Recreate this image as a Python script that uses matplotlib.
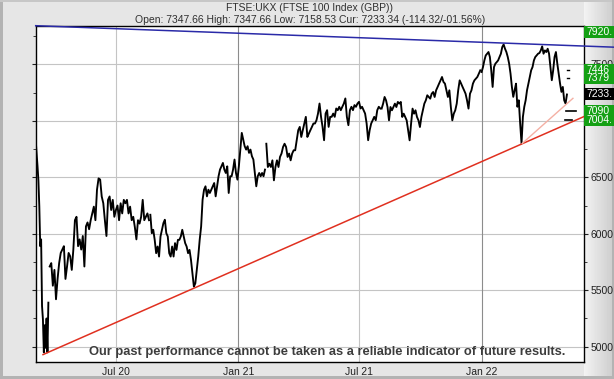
import matplotlib
matplotlib.use("Agg")
import matplotlib.pyplot as plt
import matplotlib.dates as mdates
import matplotlib.transforms as mtransforms
from matplotlib.patches import Rectangle
import numpy as np
import pandas as pd

# FTSE 100 closes, one list per stretch of time
crash_mar20 = [6829, 6710, 6600, 6470, 6240, 5890, 5950, 5360, 5240, 4950, 5190,
               4990, 5250, 4950, 5390]
spring_20 = [5710, 5740, 5540, 5680, 5420, 5600, 5740, 5830, 5860, 5890, 5600, 5710,
             5830, 5800, 5680, 5860, 6120, 6150, 5890, 5950, 5860, 5980, 5710, 6065,
             6100, 6040, 6120, 6180, 6240, 6120, 6390, 6490, 6480, 6330, 6270, 6120,
             5980, 6300, 6330, 6210, 6300, 6150, 6210, 6250, 6120, 6270, 6180, 6300,
             6270, 6300, 6180, 6240, 6120, 6150, 6060, 5950, 6120, 6090, 6150, 6300,
             6120, 6150, 6180, 6120]
autumn_20 = [6168, 6005, 6035, 5946, 5828, 5887, 5798, 5976, 6035, 6094, 6124, 6005,
             5976, 5828, 5798, 5887, 5798, 5917, 5857, 5946, 5946, 5976, 6035, 5976,
             5917, 5887, 5828, 5857, 5769, 5650, 5532, 5561, 5680, 5798, 5946, 6065,
             6301, 6390, 6420, 6331, 6390, 6361, 6390, 6420, 6449, 6331, 6420, 6509,
             6568, 6597, 6627, 6568, 6538, 6597, 6361, 6509, 6509, 6568, 6657, 6538,
             6479, 6597, 6745, 6893, 6834, 6775, 6745, 6775, 6716, 6745, 6686, 6657,
             6538, 6420, 6509, 6538, 6509, 6538, 6509, 6568]
h1_21 = [6797, 6591, 6620, 6591, 6650, 6473, 6591, 6650, 6591, 6680, 6710, 6768,
         6797, 6768, 6680, 6710, 6650, 6710, 6739, 6739, 6828, 6917, 6946, 6857,
         6917, 6976, 7035, 6857, 6887, 6917, 6946, 6976, 6976, 7005, 7064, 7153,
         7035, 6946, 6828, 7064, 7094, 6946, 7035, 7035, 7064, 7035, 7109, 7094,
         7124, 7094, 7124, 7153, 7198, 7035, 6961, 7094, 7124, 7094, 7139, 7124,
         7153, 7168, 7109, 7124, 7094, 7064, 6976, 6828, 6917, 6976, 7005, 7035,
         7005, 7094, 7124, 7109]
h2_21 = [7108, 7152, 7211, 7181, 7122, 7004, 7122, 7093, 7122, 7152, 7122, 7167,
         7152, 7167, 7034, 7063, 7034, 7004, 6916, 6827, 6975, 7108, 7063, 7093,
         7034, 7004, 6945, 7034, 7093, 7152, 7181, 7226, 7211, 7196, 7240, 7255,
         7211, 7270, 7299, 7329, 7358, 7388, 7344, 7329, 7270, 7211, 7270, 7122,
         7004, 7063, 7093, 7152, 7270, 7358, 7329, 7299, 7270, 7240, 7181, 7108,
         7240, 7270, 7329, 7358, 7373, 7388, 7417, 7447]
y2022 = [7432, 7476, 7535, 7579, 7594, 7609, 7565, 7447, 7300, 7476, 7506, 7520,
         7535, 7565, 7594, 7653, 7676, 7638, 7609, 7565, 7506, 7418, 7300, 7212,
         7271, 7329, 7124, 7182, 6977, 6800, 7035, 7124, 7182, 7271, 7329, 7388,
         7447, 7476, 7535, 7565, 7579, 7594, 7600, 7623, 7659, 7594, 7623, 7609,
         7638, 7594, 7476, 7359, 7447, 7565, 7609, 7506, 7418, 7329, 7256, 7300,
         7182, 7153, 7233]

segments = [
    ("2020-03-03", "2020-03-22", crash_mar20),
    ("2020-03-24", "2020-08-20", spring_20),
    ("2020-08-22", "2021-02-10", autumn_20),
    ("2021-02-12", "2021-08-02", h1_21),
    ("2021-08-04", "2021-12-30", h2_21),
    ("2022-01-01", "2022-05-09", y2022),
]

# trend lines
blue_dates = ["2020-03-03", "2022-07-18"]
blue_vals = [7842, 7652]
red_dates = ["2020-03-14", "2022-06-03"]
red_vals = [4930, 7036]
pink_dates = ["2022-03-03", "2022-05-18"]
pink_vals = [6800, 7199]

# right hand price labels
label_text = ["7920.", "7446", "7379", "7233.", "7090", "7004."]
label_vals = [7920, 7446, 7379, 7233, 7090, 7004]
label_cols = ["#14a014", "#14a014", "#14a014", "#000000", "#14a014", "#14a014"]

title = "FTSE:UKX (FTSE 100 Index (GBP))"
subtitle = "Open: 7347.66 High: 7347.66 Low: 7158.53 Cur: 7233.34 (-114.32/-01.56%)"
disclaimer = "Our past performance cannot be taken as a reliable indicator of future results."

plt.rcParams["font.family"] = ["Liberation Sans", "DejaVu Sans"]

W, H = 614, 379
fig = plt.figure(figsize=(W / 100, H / 100), dpi=100)

# grey bevelled background
bg = fig.add_axes([0, 0, 1, 1], zorder=-10)
bg.axis("off")
shade = np.full((H, W), 0.90)
shade[:, 584:] = np.linspace(0.95, 0.80, W - 584)
shade[:, :3] = 0.70
shade[-3:, :] = 0.70
shade[:2, :] = 0.78
shade[:, -2:] = 0.70
bg.imshow(shade, cmap="gray", vmin=0, vmax=1, aspect="auto", interpolation="nearest")

x0, x1, y0, y1 = 35.7, 583.6, 25.7, 361.6
ax = fig.add_axes([x0 / W, 1 - y1 / H, (x1 - x0) / W, (y1 - y0) / H])
ax.set_facecolor("white")

for start, end, vals in segments:
    d = pd.date_range(start, end, periods=len(vals))
    ax.plot(d, vals, color="black", lw=1.35, zorder=3)

ax.plot(pd.to_datetime(blue_dates), blue_vals, color="#2a2aa8", lw=1.1, zorder=4, clip_on=False)
ax.plot(pd.to_datetime(red_dates), red_vals, color="#e03020", lw=1.1, zorder=4)
ax.plot(pd.to_datetime(pink_dates), pink_vals, color="#f4b0a4", lw=1.0, zorder=4)

# target markers near the last bar
ax.plot(pd.to_datetime(["2022-05-09", "2022-05-12"]), [7446, 7446], color="black", lw=1, zorder=4)
ax.plot(pd.to_datetime(["2022-05-09", "2022-05-12"]), [7379, 7379], color="black", lw=1, zorder=4)
ax.plot(pd.to_datetime(["2022-05-08", "2022-05-22"]), [7090, 7090], color="black", lw=1.2, zorder=4)
ax.plot(pd.to_datetime(["2022-05-06", "2022-05-16"]), [7004, 7004], color="black", lw=1.2, zorder=4)

ax.set_xlim(pd.Timestamp("2020-03-03"), pd.Timestamp("2022-06-03"))
ax.set_ylim(4868, 7842)

ax.xaxis.set_major_locator(mdates.MonthLocator(bymonth=[1, 7]))
ax.xaxis.set_major_formatter(mdates.DateFormatter("%b %y"))
ax.tick_params(axis="x", length=0, pad=4, labelsize=7.5, colors="#202020")

ax.yaxis.tick_right()
ax.set_yticks(range(5000, 7501, 500))
ax.set_yticks(range(5000, 7751, 250), minor=True)
ax.tick_params(axis="y", which="both", direction="out", length=3, pad=2,
               labelsize=7.5, colors="#202020", left=True, right=True)
ax.tick_params(axis="y", which="minor", length=2)

ax.grid(axis="y", which="major", color="#c4c4c4", lw=0.8)
for d in ax.get_xticks():
    dt = mdates.num2date(d)
    ax.axvline(d, color="#8c8c8c" if dt.month == 1 else "#c4c4c4", lw=0.8, zorder=1)
ax.set_axisbelow(True)
for s in ax.spines.values():
    s.set_color("black")
    s.set_linewidth(1.0)

# price boxes on the right
trans = mtransforms.blended_transform_factory(ax.transAxes, ax.transData)
box_h = 12 * (7842 - 4868) / (y1 - y0)
top_limit = 7842 - 0.55 * box_h
for txt, v, c in zip(label_text, label_vals, label_cols):
    yv = min(v, top_limit)
    ax.add_patch(Rectangle((1.001, yv - box_h / 2), 0.06, box_h, transform=trans,
                           facecolor=c, edgecolor="none", clip_on=False, zorder=6))
    ax.text(1.006, yv, txt, transform=trans, color="white", fontsize=7.5,
            va="center", ha="left", zorder=7, clip_on=False)

# disclaimer, sized to span the same width as in the reference
note = ax.text(0.5326, 0.03, disclaimer, transform=ax.transAxes, ha="center", va="center",
               fontsize=10.5, fontweight="bold", color="#3c3c3c", zorder=8,
               family=["Liberation Sans Narrow", "Liberation Sans", "DejaVu Sans"])
fig.canvas.draw()
wpx = note.get_window_extent(fig.canvas.get_renderer()).width
note.set_fontsize(10.5 * 481 / wpx)

fig.text(0.504, 1 - 8 / H, title, ha="center", va="center", fontsize=7.5, color="#303030")
fig.text(0.505, 1 - 20 / H, subtitle, ha="center", va="center", fontsize=7.5, color="#303030")

fig.savefig("out.png", dpi=100)
